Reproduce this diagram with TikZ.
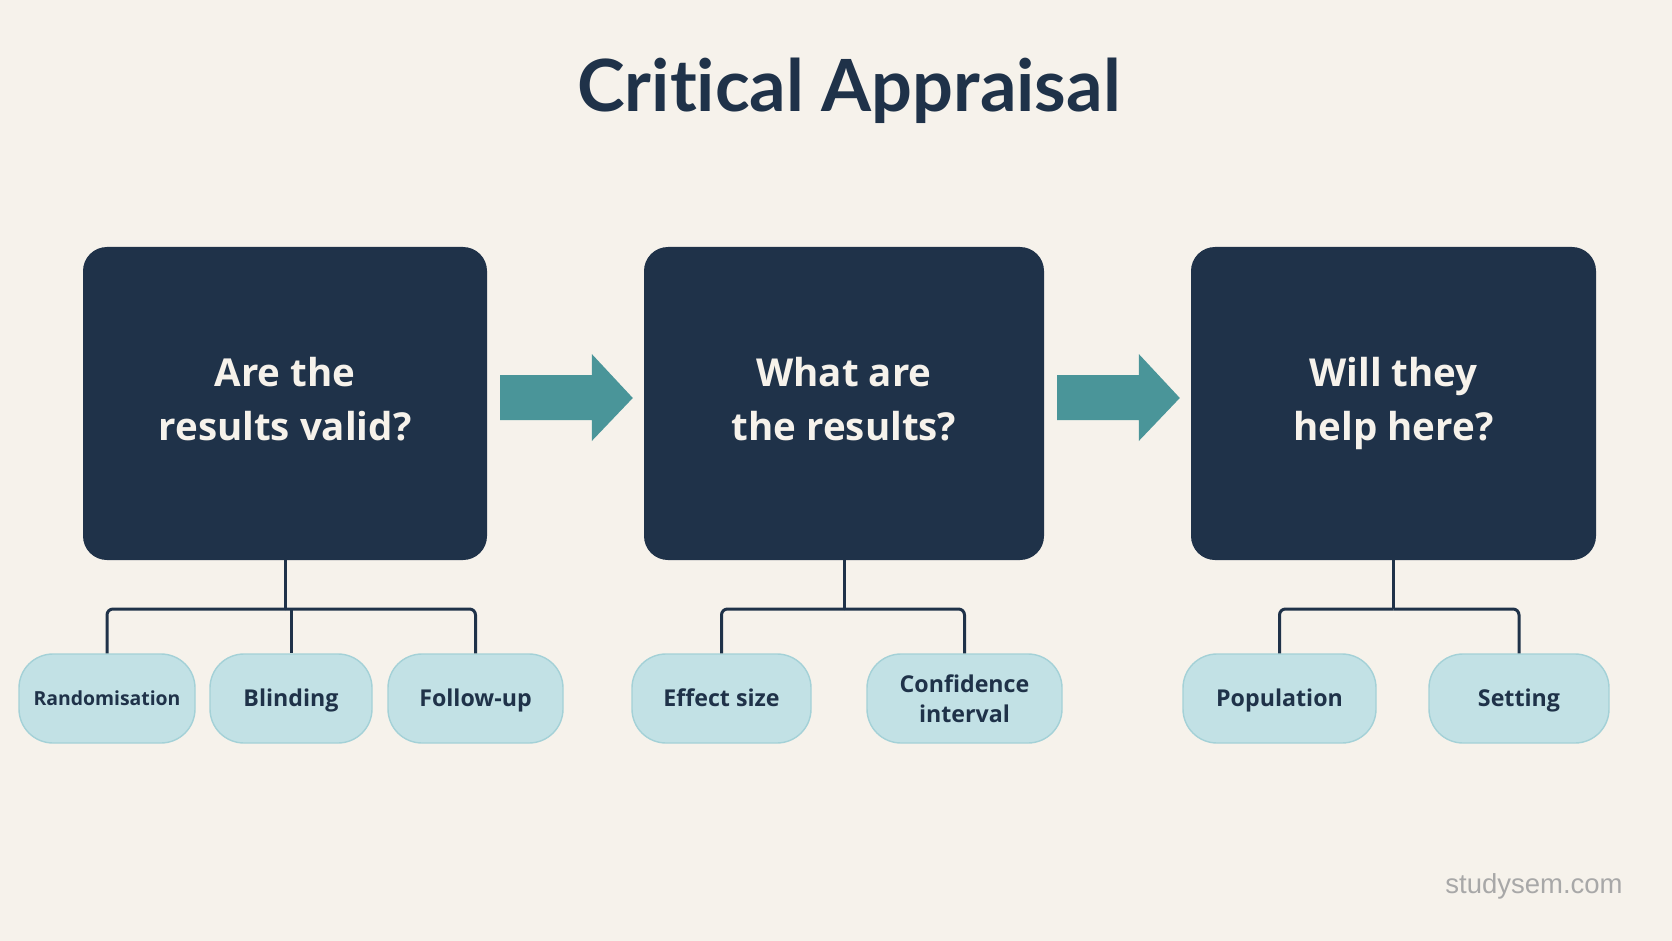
\documentclass[tikz,border=0pt]{standalone}
\usepackage{fontspec}
\setmainfont{Open Sans}
\newfontfamily\titlefont{Lato}[Ligatures={NoCommon}]
\newfontfamily\markfont{Liberation Sans}
\usetikzlibrary{calc}
\definecolor{paper}{HTML}{F6F2EB}
\definecolor{navy}{HTML}{1F3249}
\definecolor{flowteal}{HTML}{4A9599}
\definecolor{pillfill}{HTML}{C2E1E5}
\definecolor{pillline}{HTML}{A4D1D7}
\definecolor{markgray}{HTML}{A8A8A8}
% wide teal block arrow between two question boxes
\newcommand{\flowarrow}[2]{%
  \fill[flowteal] let \p1=(#1.east), \p2=(#2.west) in
    (\x1+13pt,\y1+28.5pt) -- (\x2-52pt,\y1+28.5pt) -- (\x2-52pt,\y1+49.5pt)
    -- (\x2-11pt,\y1+5.5pt) -- (\x2-52pt,\y1-37.5pt) -- (\x2-52pt,\y1-16.5pt)
    -- (\x1+13pt,\y1-16.5pt) -- cycle;}
\begin{document}
\begin{tikzpicture}[x=1pt,y=-1pt,
  question/.style={fill=navy, rounded corners=24pt, minimum height=313pt,
    inner sep=0pt},
  qtext/.style={inner sep=0pt, text=paper, align=center,
    font=\fontsize{38.5}{54}\selectfont\bfseries},
  topic/.style={fill=pillfill, draw=pillline, line width=1.4pt,
    rounded corners=34pt, minimum height=89pt, inner sep=0pt, text=navy,
    align=center, font=\fontsize{23.2}{30}\selectfont\bfseries},
  oneline/.style={topic, text height=16.6pt, text depth=0pt},
  link/.style={draw=navy, line width=3pt, rounded corners=6pt}]
\fill[paper] (0,0) rectangle (1672,941);

\node[anchor=base, text=navy, font=\fontsize{72}{80}\selectfont\titlefont\bfseries]
  (title) at (849,112) {Critical Appraisal};

% the three questions
\node[question, minimum width=404pt] (q1) at (285,403.5) {};
\node[question, minimum width=400pt] (q2) at (844,403.5) {};
\node[question, minimum width=405pt] (q3) at (1393.5,403.5) {};
\node[qtext] (q1t) at ($(q1.center)+(0,-4.5)$) {Are the\\results valid?};
\node[qtext] (q2t) at ($(q2.center)+(0,-4.5)$) {What are\\the results?};
\node[qtext] (q3t) at (q3.center) {Will they\\help here?};

\flowarrow{q1}{q2}
\flowarrow{q2}{q3}

% criteria under each question
\node[oneline, minimum width=176pt, font=\fontsize{19.4}{26}\selectfont\bfseries,
  text height=13.9pt] (t1) at (107,698.5) {Randomisation};
\node[oneline, minimum width=162pt] (t2) at (291,698.5) {Blinding};
\node[oneline, minimum width=175pt] (t3) at (475.5,698.5) {Follow-up};
\node[oneline, minimum width=179pt] (t4) at (721.5,698.5) {Effect size};
\node[topic, minimum width=195pt] (t5) at (964.5,698.5) {Confidence\\interval};
\node[oneline, minimum width=193pt] (t6) at (1279.5,698.5) {Population};
\node[oneline, minimum width=180pt] (t7) at (1519,698.5) {Setting};

% tree connectors
\coordinate (bus) at (0,609);
\draw[link] (q1.south) -- (q1.south |- bus);
\draw[link] (q1.south |- bus) -| (t1.north);
\draw[link] (q1.south |- bus) -| (t3.north);
\draw[link] (t2.north |- bus) -- (t2.north);
\draw[link] (q2.south) -- (q2.south |- bus);
\draw[link] (q2.south |- bus) -| (t4.north);
\draw[link] (q2.south |- bus) -| (t5.north);
\draw[link] (q3.south) -- (q3.south |- bus);
\draw[link] (q3.south |- bus) -| (t6.north);
\draw[link] (q3.south |- bus) -| (t7.north);

\node[anchor=base, text=markgray, font=\fontsize{27.5}{30}\selectfont\markfont]
  (wm) at (1534,893) {studysem.com};
\end{tikzpicture}
\end{document}
